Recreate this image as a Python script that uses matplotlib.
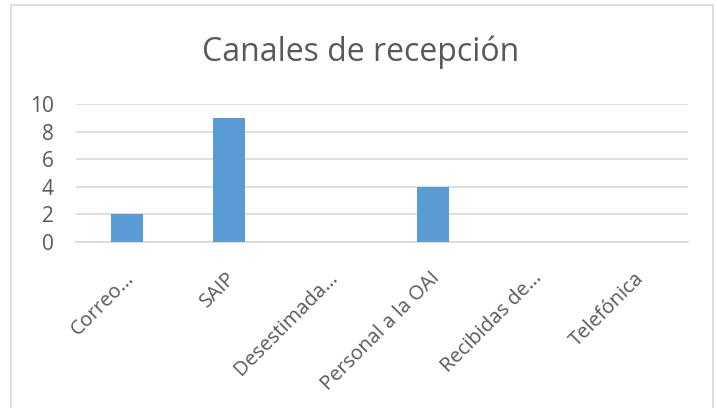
import matplotlib.pyplot as plt
import matplotlib.transforms as mtransforms
from matplotlib.patches import Rectangle

categorias = ['Correo…', 'SAIP', 'Desestimada…', 'Personal a la OAI', 'Recibidas de…', 'Telefónica']
valores = [2, 9, 0, 4, 0, 0]
yticks = [0, 2, 4, 6, 8, 10]

plt.rcParams['font.family'] = ['Open Sans', 'DejaVu Sans']
gris = '#595959'

W, H = 717, 408
fig = plt.figure(figsize=(W / 100, H / 100), dpi=100)
ax = fig.add_axes([76 / W, (H - 242) / H, 612 / W, 138 / H])

x = range(len(categorias))
ax.bar(x, valores, width=0.31, color='#5b9bd5', zorder=3)
ax.set_xlim(-0.5, len(categorias) - 0.5)
ax.set_ylim(0, 10)
ax.set_yticks(yticks)
ax.set_yticklabels([str(v) for v in yticks], fontsize=15, color=gris)
ax.set_xticks(list(x))
ax.set_xticklabels(categorias, rotation=45, ha='right', va='center',
                   rotation_mode='anchor', fontsize=14.5, color=gris)
ax.tick_params(axis='both', length=0)
ax.tick_params(axis='x', pad=24)
ax.tick_params(axis='y', pad=16)
# correr las etiquetas un poco a la derecha como en Excel
desplazar = mtransforms.ScaledTranslation(4 / 100, 0, fig.dpi_scale_trans)
for lab in ax.get_xticklabels():
    lab.set_transform(lab.get_transform() + desplazar)
ax.grid(axis='y', color='#d9d9d9', linewidth=1.2, zorder=0)
for s in ['top', 'right', 'left']:
    ax.spines[s].set_visible(False)
ax.spines['bottom'].set_color('#d9d9d9')
ax.spines['bottom'].set_linewidth(1.2)

fig.text(361 / W, (H - 52) / H, 'Canales de recepción', ha='center', va='center',
         fontsize=23, color=gris)

# borde del grafico
fig.add_artist(Rectangle((11 / W, -0.05), (713 - 11) / W, (H - 5) / H + 0.05,
                         transform=fig.transFigure, fill=False,
                         edgecolor='#d9d9d9', linewidth=1.2))

fig.savefig('out.png', dpi=100)
